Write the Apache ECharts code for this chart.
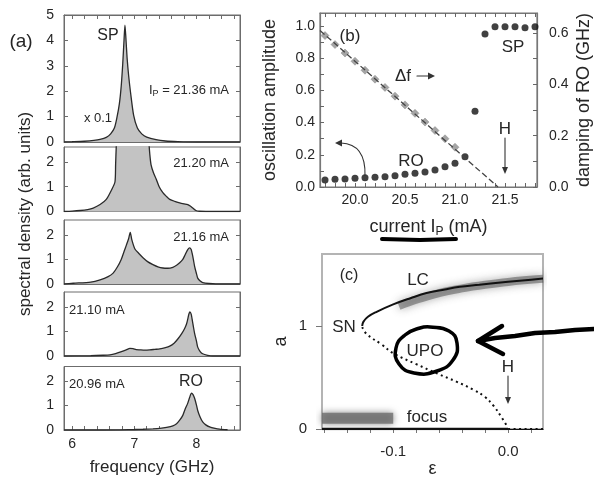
<!DOCTYPE html>
<html>
<head>
<meta charset="utf-8">
<script src="https://cdn.jsdelivr.net/npm/echarts@6/dist/echarts.min.js"></script>
<style>html,body{margin:0;padding:0;background:#fff}#chart{width:594px;height:479px}</style>
</head>
<body>
<div id="chart"></div>
<script>
// ---------- Panel (a): spectra [frequency GHz, spectral density] ----------
const spec2136 = [[5.87,0],[6.0,0.01],[6.2,0.03],[6.35,0.06],[6.45,0.1],[6.55,0.18],[6.62,0.32],[6.68,0.55],[6.72,0.95],[6.76,1.5],[6.79,2.2],[6.815,3.1],[6.835,4.0],[6.85,4.6],[6.865,4.1],[6.885,3.3],[6.91,2.6],[6.94,1.95],[6.99,1.05],[7.05,0.55],[7.12,0.32],[7.2,0.19],[7.35,0.09],[7.5,0.04],[7.7,0.015],[8.0,0],[8.7,0]];
const spec2120 = [[5.87,0],[6.0,0.015],[6.13,0.04],[6.25,0.08],[6.34,0.14],[6.45,0.28],[6.55,0.49],[6.63,0.85],[6.69,1.2],[6.7,1.9],[6.71,2.6],[6.73,3.5],[6.8,4.5],[6.9,5],[7.05,5],[7.15,4.3],[7.22,3.2],[7.25,2.3],[7.27,1.88],[7.31,1.55],[7.35,1.32],[7.4,1.0],[7.46,0.76],[7.52,0.6],[7.57,0.49],[7.65,0.41],[7.73,0.35],[7.8,0.31],[7.86,0.28],[7.9,0.22],[7.94,0.14],[7.99,0.04],[8.05,0.01],[8.3,0],[8.7,0]];
const spec2116 = [[5.87,0],[6.02,0.03],[6.3,0.08],[6.45,0.17],[6.58,0.3],[6.66,0.44],[6.73,0.7],[6.79,1.0],[6.84,1.35],[6.87,1.56],[6.91,1.85],[6.935,2.1],[6.96,1.8],[7.01,1.42],[7.07,1.25],[7.14,1.07],[7.22,0.9],[7.3,0.79],[7.38,0.7],[7.46,0.65],[7.54,0.64],[7.62,0.68],[7.68,0.76],[7.73,0.86],[7.78,1.0],[7.82,1.2],[7.86,1.4],[7.89,1.47],[7.915,1.4],[7.93,1.25],[7.95,1.0],[7.97,0.72],[8.0,0.42],[8.02,0.24],[8.06,0.12],[8.1,0.06],[8.2,0.02],[8.31,0],[8.7,0]];
const spec2110 = [[5.87,0],[6.3,0.01],[6.5,0.03],[6.61,0.05],[6.7,0.1],[6.77,0.16],[6.87,0.25],[6.93,0.31],[6.98,0.3],[7.03,0.26],[7.09,0.25],[7.17,0.24],[7.25,0.25],[7.33,0.27],[7.41,0.29],[7.5,0.34],[7.57,0.4],[7.64,0.52],[7.7,0.69],[7.76,0.9],[7.81,1.12],[7.84,1.3],[7.86,1.5],[7.88,1.72],[7.895,1.79],[7.915,1.7],[7.93,1.5],[7.95,1.2],[7.97,0.92],[8.0,0.6],[8.02,0.36],[8.06,0.18],[8.1,0.09],[8.18,0.03],[8.26,0],[8.7,0]];
const spec2096 = [[5.87,0],[6.5,0],[7.0,0.02],[7.14,0.03],[7.3,0.05],[7.41,0.07],[7.52,0.11],[7.62,0.17],[7.68,0.26],[7.73,0.4],[7.78,0.6],[7.82,0.87],[7.86,1.1],[7.89,1.33],[7.92,1.51],[7.945,1.45],[7.97,1.3],[8.0,1.02],[8.02,0.8],[8.06,0.52],[8.1,0.33],[8.15,0.21],[8.21,0.13],[8.3,0.07],[8.37,0.04],[8.5,0.01]];
const freqRange = [5.87, 8.7];
const freqTickVals = [6,6.2,6.4,6.6,6.8,7,7.2,7.4,7.6,7.8,8,8.2,8.4,8.6];
const freqLabelVals = [6,7,8];
const densTopTicks = [0,1,2,3,4,5];
const densTicks = [0,1,2];

// ---------- Panel (b) ----------
const currentIp = [19.7,19.8,19.9,20.0,20.1,20.2,20.3,20.4,20.5,20.6,20.7,20.8,20.9,21.0,21.1,21.2,21.3,21.4,21.5,21.6,21.7,21.8];
const oscAmp = [0.043,0.048,0.05,0.054,0.058,0.06,0.064,0.07,0.079,0.085,0.093,0.106,0.126,0.147,0.188,0.47,0.95,0.995,0.995,0.995,0.99,0.995];
const dfCurrent = [19.7,19.8,19.9,20.0,20.1,20.2,20.3,20.4,20.5,20.6,20.7,20.8,20.9,21.0];
const dampingDf = [0.59,0.555,0.522,0.49,0.455,0.42,0.388,0.354,0.32,0.287,0.253,0.22,0.188,0.155];
const dfFitLine = [[19.65,0.61],[21.43,0]];
const ipRange = [19.65, 21.82];
const ipTickVals = [19.7,19.8,19.9,20.0,20.1,20.2,20.3,20.4,20.5,20.6,20.7,20.8,20.9,21.0,21.1,21.2,21.3,21.4,21.5,21.6,21.7,21.8];
const ipLabelVals = [20.0,20.5,21.0,21.5];
const ampTickVals = [0,0.1,0.2,0.3,0.4,0.5,0.6,0.7,0.8,0.9,1.0];
const ampLabelVals = [0,0.2,0.4,0.6,0.8,1.0];
const dampTickVals = [0,0.1,0.2,0.3,0.4,0.5,0.6];
const dampLabelVals = [0,0.2,0.4,0.6];

// ---------- Panel (c) ----------
const lcBranch = [[-0.127,1.0],[-0.126,1.04],[-0.122,1.09],[-0.114,1.14],[-0.1,1.21],[-0.085,1.27],[-0.071,1.32],[-0.055,1.355],[-0.042,1.38],[-0.025,1.40],[-0.013,1.415],[0,1.43],[0.015,1.445],[0.0304,1.46]];
const lcShade = [[-0.095,1.195],[-0.08,1.255],[-0.06,1.32],[-0.04,1.365],[-0.02,1.40],[0,1.428],[0.0304,1.458]];
const upoBranch = [[-0.127,0.99],[-0.123,0.92],[-0.11,0.82],[-0.1,0.735],[-0.08,0.63],[-0.062,0.54],[-0.045,0.46],[-0.03,0.38],[-0.02,0.31],[-0.013,0.23],[-0.006,0.12],[0,0.01]];
const focusStable = [[-0.162,0],[0,0]];
const focusUnstable = [[0,0],[0.0304,0]];
const focusShade = [[-0.162,0.105],[-0.1,0.105]];
const epsRange = [-0.162, 0.0304];
const epsTickVals = [-0.16,-0.14,-0.12,-0.1,-0.08,-0.06,-0.04,-0.02,0,0.02];
const epsLabelVals = [-0.1,0];
const aTickVals = [0,1];
const aRange = [0, 1.699];

// ---------- chart ----------
const F = "'Liberation Sans', Arial, sans-serif";
const TXT = '#262626';
const FA = '#6c6c6c';

const grids = [];
const aLayout = [[15,127],[147,64.5],[220,64],[292,64],[366.5,63.5]];
aLayout.forEach(([t,h]) => grids.push({left:64, top:t, width:176, height:h, show:true, borderColor:FA, borderWidth:1, backgroundColor:'transparent'}));
grids.push({left:320, top:13, width:218, height:174, show:true, borderColor:'#777', borderWidth:1.2, backgroundColor:'transparent'});
grids.push({left:322, top:254, width:221, height:175, show:true, borderColor:'#b4b4b4', borderWidth:2, backgroundColor:'transparent'});

const lbl = (size, extra) => Object.assign({fontSize:size, color:TXT, fontFamily:F}, extra || {});
const xAxes = [], yAxes = [];
for (let i = 0; i < 5; i++) {
  const last = i === 4;
  xAxes.push({type:'value', gridIndex:i, min:freqRange[0], max:freqRange[1], position:'bottom',
    axisLine:{show:true, onZero:false, lineStyle:{color:FA, width:1}},
    axisTick:{show:last, inside:true, length:4, customValues:freqTickVals, lineStyle:{color:FA}},
    axisLabel:Object.assign({show:last, customValues:freqLabelVals, margin:7}, lbl(14)),
    splitLine:{show:false},
    name:last ? 'frequency (GHz)' : '', nameLocation:'middle', nameGap:29, nameTextStyle:lbl(17)});
}
xAxes.push({type:'value', gridIndex:0, min:freqRange[0], max:freqRange[1], position:'top',
  axisLine:{show:true, onZero:false, lineStyle:{color:FA}},
  axisTick:{show:true, inside:true, length:4, customValues:freqTickVals, lineStyle:{color:FA}},
  axisLabel:{show:false}, splitLine:{show:false}});
// (b)
xAxes.push({type:'value', gridIndex:5, min:ipRange[0], max:ipRange[1], position:'bottom',
  axisLine:{show:true, onZero:false, lineStyle:{color:'#777', width:1.2}},
  axisTick:{show:true, inside:true, length:4, customValues:ipTickVals, lineStyle:{color:'#666'}},
  axisLabel:Object.assign({customValues:ipLabelVals, margin:6, formatter:v => v.toFixed(1)}, lbl(14)),
  splitLine:{show:false},
  name:'{n|current I}{s|P}{n| (mA)}', nameLocation:'middle', nameGap:31,
  nameTextStyle:lbl(18, {rich:{n:{fontSize:18, lineHeight:18, verticalAlign:'top', color:TXT, fontFamily:F}, s:{fontSize:12, lineHeight:20, verticalAlign:'bottom', color:TXT, fontFamily:F}}})});
xAxes.push({type:'value', gridIndex:5, min:ipRange[0], max:ipRange[1], position:'top',
  axisLine:{show:true, onZero:false, lineStyle:{color:'#777', width:1.2}},
  axisTick:{show:true, inside:true, length:4, customValues:ipTickVals, lineStyle:{color:'#666'}},
  axisLabel:{show:false}, splitLine:{show:false}});
// (c)
xAxes.push({type:'value', gridIndex:6, min:epsRange[0], max:epsRange[1], position:'bottom',
  axisLine:{show:true, onZero:false, lineStyle:{color:'#111', width:1}},
  axisTick:{show:true, inside:false, length:4, customValues:epsTickVals, lineStyle:{color:'#777'}},
  axisLabel:Object.assign({customValues:epsLabelVals, margin:15, formatter:v => v.toFixed(1)}, lbl(15)),
  splitLine:{show:false},
  name:'ε', nameLocation:'middle', nameGap:29, nameTextStyle:lbl(18)});

for (let i = 0; i < 5; i++) {
  const tk = i === 0 ? densTopTicks : densTicks;
  yAxes.push({type:'value', gridIndex:i, min:0, max:i === 0 ? 5 : 2.6, position:'left',
    axisLine:{show:true, onZero:false, lineStyle:{color:FA}},
    axisTick:{show:true, inside:true, length:4, customValues:tk, lineStyle:{color:FA}},
    axisLabel:Object.assign({customValues:tk, margin:10}, lbl(14)),
    splitLine:{show:false}});
}
for (let i = 0; i < 5; i++) {
  const tk = i === 0 ? densTopTicks : densTicks;
  yAxes.push({type:'value', gridIndex:i, min:0, max:i === 0 ? 5 : 2.6, position:'right',
    axisLine:{show:true, onZero:false, lineStyle:{color:FA}},
    axisTick:{show:true, inside:true, length:4, customValues:tk, lineStyle:{color:FA}},
    axisLabel:{show:false}, splitLine:{show:false}});
}
yAxes.push({type:'value', gridIndex:5, min:0, max:1.081, position:'left',
  axisLine:{show:true, onZero:false, lineStyle:{color:'#777', width:1.2}},
  axisTick:{show:true, inside:true, length:4, customValues:ampTickVals, lineStyle:{color:'#666'}},
  axisLabel:Object.assign({customValues:ampLabelVals, margin:5, formatter:v => v.toFixed(1)}, lbl(14)),
  splitLine:{show:false},
  name:'oscillation amplitude', nameLocation:'middle', nameRotate:90, nameGap:41, nameTextStyle:lbl(18)});
yAxes.push({type:'value', gridIndex:5, min:0, max:0.678, position:'right',
  axisLine:{show:true, onZero:false, lineStyle:{color:'#777', width:1.2}},
  axisTick:{show:true, inside:true, length:4, customValues:dampTickVals, lineStyle:{color:'#666'}},
  axisLabel:Object.assign({customValues:dampLabelVals, margin:12, formatter:v => v.toFixed(1)}, lbl(14)),
  splitLine:{show:false},
  name:'damping of RO (GHz)', nameLocation:'middle', nameRotate:90, nameGap:38, nameTextStyle:lbl(18)});
yAxes.push({type:'value', gridIndex:6, min:aRange[0], max:aRange[1], position:'left',
  axisLine:{show:true, onZero:false, lineStyle:{color:'#b4b4b4', width:2}},
  axisTick:{show:true, inside:false, length:6, customValues:aTickVals, lineStyle:{color:'#777'}},
  axisLabel:Object.assign({customValues:aTickVals, margin:15}, lbl(15)),
  splitLine:{show:false},
  name:'a', nameLocation:'middle', nameRotate:90, nameGap:32, nameTextStyle:lbl(18)});

const series = [];
[spec2136, spec2120, spec2116, spec2110, spec2096].forEach((d, i) => {
  series.push({type:'line', name:'spectrum ' + i, xAxisIndex:i, yAxisIndex:i, data:d, smooth:0.25,
    symbol:'none', clip:true, lineStyle:{color:'#2a2a2a', width:1.3}, areaStyle:{color:'#c3c3c3', opacity:1}});
});
series.push({type:'line', name:'fit', xAxisIndex:6, yAxisIndex:11, data:dfFitLine, symbol:'none',
  lineStyle:{color:'#444', width:1.3, type:[6,3]}});
series.push({type:'scatter', name:'Δf', xAxisIndex:6, yAxisIndex:11, data:dfCurrent.map((x,i) => [x, dampingDf[i]]),
  symbol:'diamond', symbolSize:8, itemStyle:{color:'#8e8e8e', borderColor:'#777', borderWidth:0.5}});
series.push({type:'scatter', name:'RO amplitude', xAxisIndex:6, yAxisIndex:10, data:currentIp.map((x,i) => [x, oscAmp[i]]),
  symbol:'circle', symbolSize:7, itemStyle:{color:'#111'}});
series.push({type:'line', name:'focus shade', xAxisIndex:8, yAxisIndex:12, data:focusShade, symbol:'none',
  lineStyle:{color:'rgba(110,110,110,0.8)', width:11, cap:'butt', shadowBlur:7, shadowColor:'rgba(110,110,110,1)'}});
series.push({type:'line', name:'LC shade', xAxisIndex:8, yAxisIndex:12, data:lcShade, symbol:'none', smooth:0.4,
  lineStyle:{color:'rgba(60,60,60,0.45)', width:8, cap:'butt', shadowBlur:8, shadowColor:'rgba(60,60,60,0.9)'}});
series.push({type:'line', name:'LC', xAxisIndex:8, yAxisIndex:12, data:lcBranch, symbol:'none', smooth:0.4,
  lineStyle:{color:'#111', width:2}});
series.push({type:'line', name:'UPO', xAxisIndex:8, yAxisIndex:12, data:upoBranch, symbol:'none', smooth:0.4,
  lineStyle:{color:'#111', width:2, type:[2,3.5]}});
series.push({type:'line', name:'stable focus', xAxisIndex:8, yAxisIndex:12, data:focusStable, symbol:'none',
  lineStyle:{color:'#111', width:2.5}});
series.push({type:'line', name:'unstable focus', xAxisIndex:8, yAxisIndex:12, data:focusUnstable, symbol:'none',
  lineStyle:{color:'#111', width:2, type:[2,3.5]}});

function T(text, x, y, size, align, extra) {
  return {type:'text', z:100, style:Object.assign({text:text, x:x, y:y, fontSize:size, fontFamily:F, fill:TXT,
    align:align || 'center', verticalAlign:'middle'}, extra || {})};
}
function L(points, w, col) {
  return {type:'polyline', z:100, shape:{points:points}, style:{stroke:col || '#333', lineWidth:w, fill:null, lineCap:'round', lineJoin:'round'}};
}
function P(points, col) {
  return {type:'polygon', z:100, shape:{points:points}, style:{fill:col || '#333'}};
}
const subRich = {n:{fontSize:13, lineHeight:13, verticalAlign:'top', fill:TXT, fontFamily:F}, s:{fontSize:9, lineHeight:15, verticalAlign:'bottom', fill:TXT, fontFamily:F}};

const graphic = [
  // (a)
  T('(a)', 21, 42, 19),
  T('SP', 108, 36, 16),
  {type:'text', z:100, style:{text:'{n|I}{s|P}{n| = 21.36 mA}', x:229, y:83.5, align:'right', verticalAlign:'top', rich:subRich, fontSize:13, fontFamily:F, fill:TXT}},
  T('x 0.1', 98, 118, 13),
  T('21.20 mA', 229, 163, 13, 'right'),
  T('21.16 mA', 229, 237, 13, 'right'),
  T('21.10 mA', 69, 310, 13, 'left'),
  T('20.96 mA', 69, 384, 13, 'left'),
  T('RO', 191, 382, 16),
  {type:'text', z:100, x:25, y:214, rotation:Math.PI / 2, style:{text:'spectral density (arb. units)', x:0, y:0, fontSize:17, fontFamily:F, fill:TXT, align:'center', verticalAlign:'middle'}},
  // (b)
  T('(b)', 350, 36, 17),
  T('SP', 513, 47, 17),
  T('Δf', 403, 76, 17),
  L([[417,76],[429,76]], 1.2),
  P([[435,76],[428,72.5],[428,79.5]]),
  T('RO', 411, 161, 17),
  T('H', 505, 129, 17),
  L([[505,138],[505,168]], 1.1),
  P([[505,174],[502,167],[508,167]]),
  {type:'bezierCurve', z:100, shape:{x1:365, y1:176, cpx1:366, cpy1:144, x2:341, y2:143}, style:{stroke:'#333', lineWidth:1.1, fill:null}},
  P([[335,143],[342,139.5],[342,146.5]]),
  // hand-drawn underline
  L([[382,239],[420,240],[456,239]], 4, '#000'),
  // (c)
  T('(c)', 349, 276, 16),
  T('LC', 418, 280, 17),
  T('SN', 344, 327, 17),
  T('UPO', 425, 351, 17),
  T('H', 508, 367, 17),
  L([[508,376],[508,398]], 1.1),
  P([[508,404],[505,397],[511,397]]),
  T('focus', 427, 417, 17),
  // hand-drawn circle and arrow
  {type:'polygon', z:101, shape:{points:[[430,327],[449,331],[457,343],[453,360],[437,371],[414,373],[399,364],[396,348],[405,335],[420,328]], smooth:0.5},
    style:{stroke:'#000', lineWidth:3.5, fill:null}},
  L([[594,329],[575,330],[555,332],[535,333],[515,336],[495,338],[478,341]], 4.5, '#000'),
  L([[502,326],[478,341],[503,354]], 4.5, '#000')
];

const chart = echarts.init(document.getElementById('chart'), null, {renderer:'canvas'});
chart.setOption({animation:false, backgroundColor:'#fff', grid:grids, xAxis:xAxes, yAxis:yAxes, series:series, graphic:graphic});
</script>
</body>
</html>
